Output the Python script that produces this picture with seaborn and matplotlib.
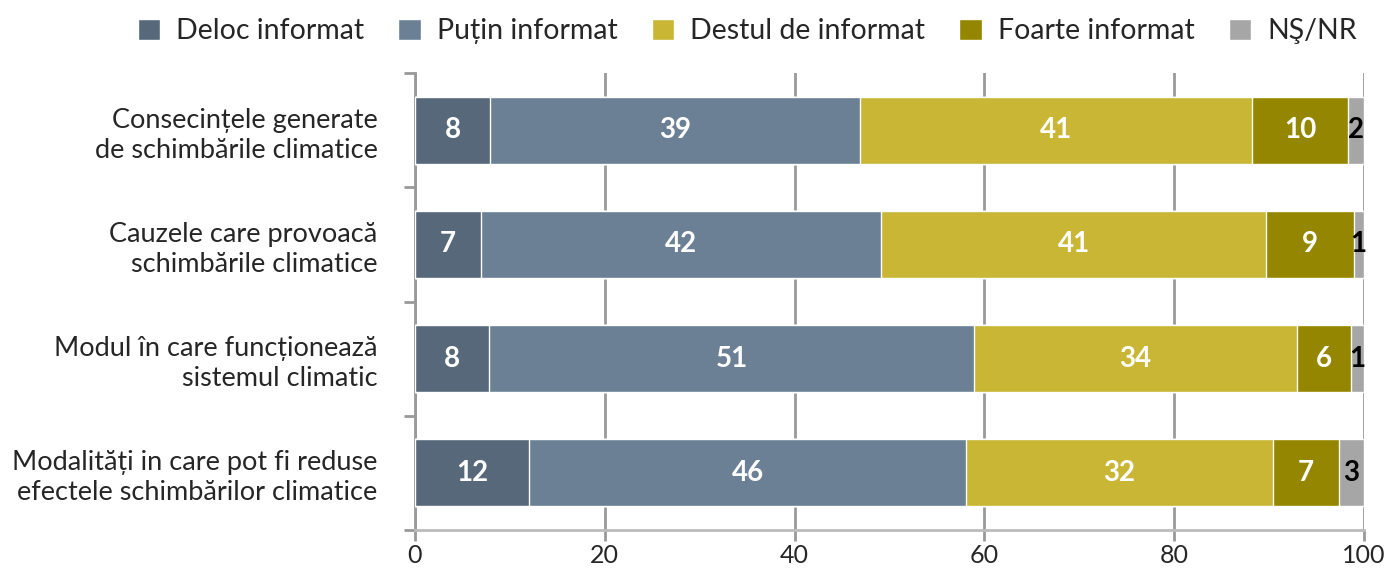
import numpy as np
import pandas as pd
import matplotlib.pyplot as plt
import seaborn as sns
from matplotlib.patches import Patch

categorii = [
    "Consecințele generate\nde schimbările climatice",
    "Cauzele care provoacă\nschimbările climatice",
    "Modul în care funcționează\nsistemul climatic",
    "Modalități in care pot fi reduse\nefectele schimbărilor climatice",
]
serii = ["Deloc informat", "Puțin informat", "Destul de informat", "Foarte informat", "NŞ/NR"]
deloc = [7.9, 7.0, 7.8, 12.0]
putin = [39.0, 42.1, 51.1, 46.1]
destul = [41.3, 40.6, 34.0, 32.3]
foarte = [10.1, 9.2, 5.7, 7.0]
nsnr = [1.7, 1.1, 1.4, 2.6]
culori = ["#566879", "#6b8094", "#c8b634", "#958600", "#a6a6a6"]
culori_text = ["white", "white", "white", "white", "black"]

sns.set_theme(style="white")
plt.rcParams['font.family'] = ['Lato', 'DejaVu Sans']

df = pd.DataFrame({"cat": categorii, "Deloc informat": deloc, "Puțin informat": putin,
                   "Destul de informat": destul, "Foarte informat": foarte, "NŞ/NR": nsnr})
cum = df[serii].cumsum(axis=1)

fig = plt.figure(figsize=(13.86, 5.69), dpi=100)
ax = fig.add_axes([0.2994, 0.0685, 0.6847, 0.8032])

# stacked bars: draw cumulative totals from the last series back to the first
for i in range(len(serii) - 1, -1, -1):
    sns.barplot(x=cum[serii[i]], y=df["cat"], color=culori[i], width=0.585,
                orient="h", ax=ax, saturation=1, zorder=3)

for i, s in enumerate(serii):
    for j in range(len(categorii)):
        centru = cum[s][j] - df[s][j] / 2
        ax.text(centru, j, f"{round(df[s][j])}", ha="center", va="center",
                color=culori_text[i], fontsize=20, fontweight="bold", zorder=4)

ax.set_xlim(0, 100)
ax.set_ylim(3.5, -0.5)
ax.set_xticks(range(0, 101, 20))
ax.tick_params(axis="x", labelsize=18, length=8, width=2, color="#999999", pad=2, bottom=True)
ax.set_yticks(range(len(categorii)))
ax.set_yticklabels(categorii, fontsize=19.5, linespacing=1.25)
ax.set_yticks(np.arange(-0.5, 4.0, 1.0), minor=True)
ax.tick_params(axis="y", which="major", length=0, pad=27)
ax.tick_params(axis="y", which="minor", length=8, width=2, color="#999999", left=True)
for lbl in ax.get_yticklabels():
    lbl.set_ha("right")
ax.set_xlabel("")
ax.set_ylabel("")
ax.grid(axis="x", color="#999999", linewidth=2, zorder=0)
ax.set_axisbelow(True)
for sp in ["top", "right"]:
    ax.spines[sp].set_visible(False)
ax.spines["left"].set_color("#999999")
ax.spines["left"].set_linewidth(2)
ax.spines["bottom"].set_color("#bbbbbb")
ax.spines["bottom"].set_linewidth(2)

handles = [Patch(facecolor=c, label=s) for c, s in zip(culori, serii)]
fig.legend(handles=handles, loc="center", bbox_to_anchor=(0.539, 0.945), ncol=5,
           frameon=False, fontsize=20.5, handlelength=0.8, handleheight=0.8,
           handletextpad=0.55, columnspacing=1.2)

plt.savefig("out.png", dpi=100)
